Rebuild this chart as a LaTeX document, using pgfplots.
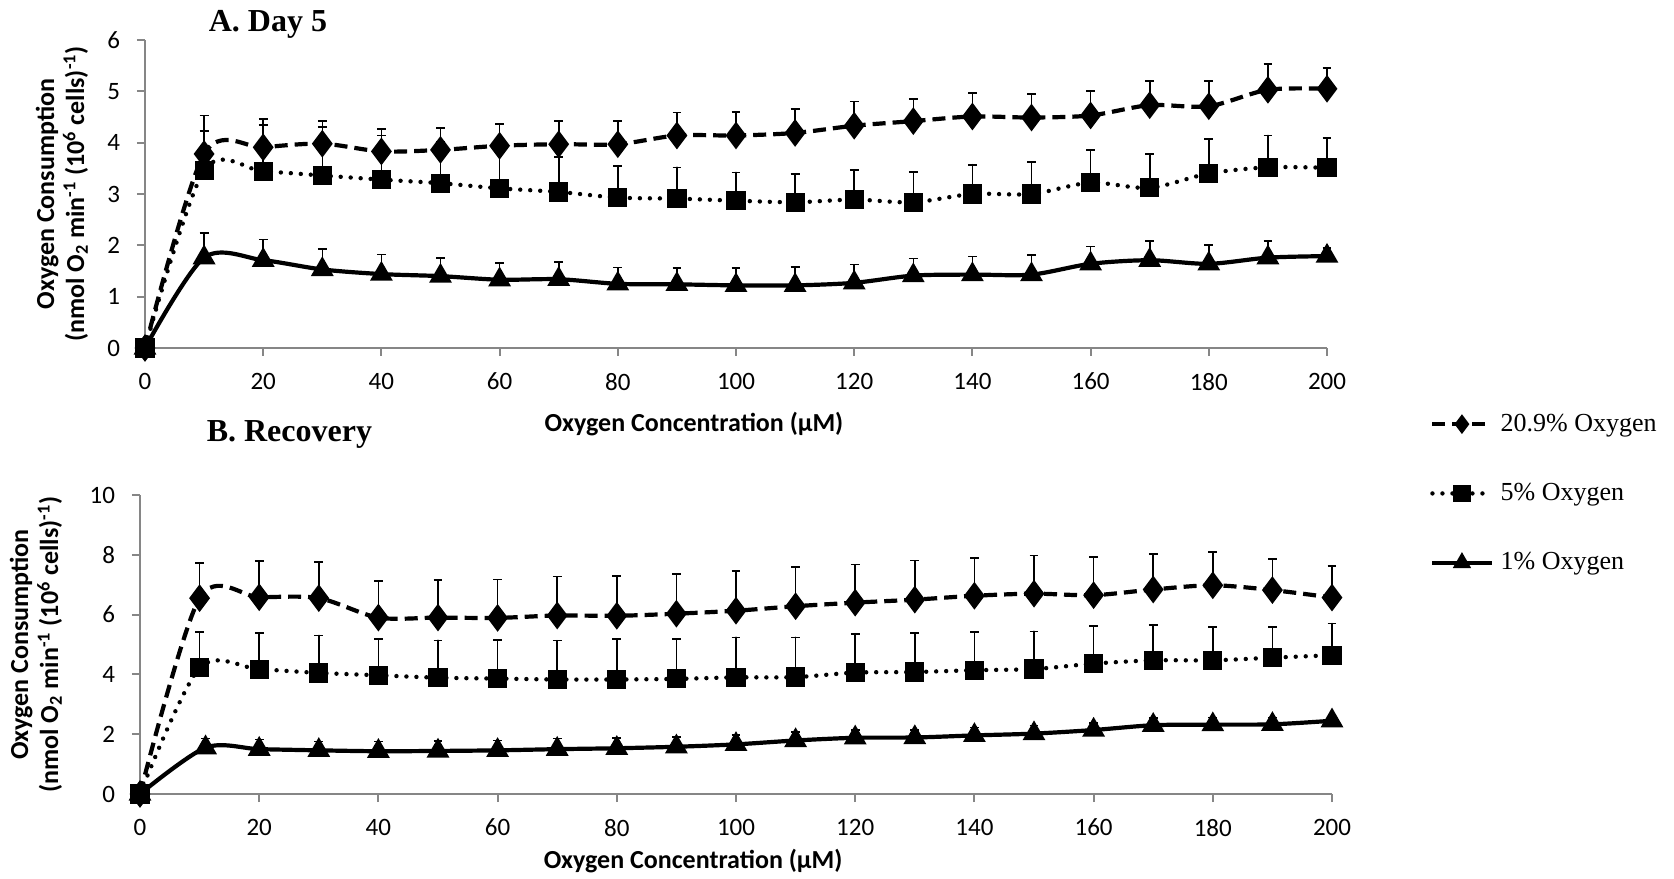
\documentclass[border=0pt]{standalone}
\usepackage{pgfplots}
\pgfplotsset{compat=1.18}
\usepackage{pgfplotstable}
\usepackage{fontspec}
\setmainfont{Carlito}
\newfontfamily\timesfont{Liberation Serif}
\definecolor{axgray}{RGB}{134,134,134}

% x  y  e(upper error)
\pgfplotstableread{
x y e
0 0 0
10 3.78 0.75
20 3.91 0.55
30 3.98 0.44
40 3.83 0.44
50 3.86 0.42
60 3.94 0.42
70 3.97 0.45
80 3.97 0.45
90 4.14 0.45
100 4.14 0.46
110 4.19 0.47
120 4.33 0.47
130 4.42 0.43
140 4.51 0.46
150 4.49 0.46
160 4.53 0.48
170 4.73 0.47
180 4.71 0.49
190 5.03 0.50
200 5.05 0.40
}\Ahigh
\pgfplotstableread{
x y e
0 0 0
10 3.46 0.77
20 3.44 0.91
30 3.36 0.94
40 3.28 0.86
50 3.21 0.80
60 3.11 0.80
70 3.04 0.68
80 2.93 0.62
90 2.91 0.61
100 2.87 0.55
110 2.84 0.55
120 2.89 0.58
130 2.84 0.59
140 3.00 0.57
150 3.00 0.62
160 3.22 0.64
170 3.12 0.66
180 3.40 0.67
190 3.52 0.62
200 3.51 0.58
}\Amid
\pgfplotstableread{
x y e
0 0 0
10 1.76 0.48
20 1.71 0.40
30 1.53 0.40
40 1.44 0.38
50 1.40 0.35
60 1.33 0.33
70 1.34 0.33
80 1.25 0.32
90 1.24 0.32
100 1.22 0.34
110 1.22 0.36
120 1.27 0.36
130 1.41 0.33
140 1.43 0.35
150 1.43 0.38
160 1.64 0.34
170 1.71 0.38
180 1.64 0.37
190 1.76 0.33
200 1.79 0.16
}\Alow
\pgfplotstableread{
x y e
0 0 0
10 6.55 1.18
20 6.58 1.21
30 6.55 1.21
40 5.90 1.23
50 5.90 1.25
60 5.89 1.28
70 5.97 1.31
80 5.96 1.33
90 6.03 1.32
100 6.13 1.33
110 6.28 1.31
120 6.40 1.28
130 6.50 1.31
140 6.63 1.27
150 6.70 1.27
160 6.65 1.27
170 6.84 1.19
180 6.98 1.11
190 6.82 1.03
200 6.57 1.05
}\Bhigh
\pgfplotstableread{
x y e
0 0 0
10 4.22 1.19
20 4.17 1.21
30 4.05 1.25
40 3.97 1.21
50 3.89 1.25
60 3.86 1.29
70 3.83 1.30
80 3.83 1.35
90 3.85 1.34
100 3.90 1.34
110 3.91 1.33
120 4.06 1.30
130 4.08 1.30
140 4.14 1.27
150 4.18 1.26
160 4.36 1.26
170 4.47 1.19
180 4.47 1.11
190 4.56 1.02
200 4.64 1.06
}\Bmid
\pgfplotstableread{
x y e
0 0 0
11 1.55 0.30
20 1.50 0.32
30 1.46 0.30
40 1.43 0.33
50 1.44 0.33
60 1.46 0.33
70 1.50 0.35
80 1.53 0.34
90 1.58 0.32
100 1.66 0.32
110 1.79 0.28
120 1.88 0.27
130 1.89 0.26
140 1.96 0.27
150 2.02 0.27
160 2.14 0.24
170 2.30 0.24
180 2.32 0.24
190 2.33 0.23
200 2.45 0.17
}\Blow

\pgfplotsset{
  myaxis/.style={
    scale only axis, clip=false,
    xmin=0, xmax=200, xtick={0,20,...,200},
    axis x line*=bottom, axis y line*=left,
    axis line style={axgray, line width=1pt},
    tick style={axgray, line width=1pt},
    tick align=outside, major tick length=4pt,
    /pgf/number format/assume math mode=true,
    ticklabel style={font=\fontsize{12.5}{14}\selectfont, black},
    xticklabel style={yshift=-5pt},
    yticklabel style={xshift=-5pt},
    label style={font=\bfseries\fontsize{13}{15}\selectfont},
    ylabel style={align=center, anchor=center},
    xlabel style={anchor=center},
    ylabel={Oxygen Consumption\\(nmol O\textsubscript{2} min\textsuperscript{-1} (10\textsuperscript{6} cells)\textsuperscript{-1})},
    xlabel={Oxygen Concentration (\textmu M)},
  },
  eb/.style={
    error bars/y dir=plus, error bars/y explicit,
    error bars/error bar style={solid, line width=0.8pt, black},
    error bars/error mark options={rotate=90, mark size=2.2pt, line width=0.8pt, solid, black},
  },
  legimg/.style={
    legend image code/.code={
      \draw[mark repeat=2, mark phase=2, ##1, mark size=3.2pt] plot coordinates {(0pt,0pt) (14.75pt,0pt) (29.5pt,0pt)};
    },
  },
  shigh/.style={black, line width=2.1pt, dash pattern=on 6.5pt off 3.5pt, smooth, tension=0.5,
      mark=diamond*, mark size=5.2pt, mark options={solid, fill=black}, eb, legimg},
  smid/.style={black, line width=2.2pt, dash pattern=on 0pt off 5pt, line cap=round, smooth, tension=0.5,
      mark=square*, mark size=3.7pt, mark options={solid, fill=black, line cap=butt}, eb, legimg},
  slow/.style={black, line width=2.1pt, solid, smooth, tension=0.5,
      mark=triangle*, mark size=4.5pt, mark options={solid, fill=black}, eb, legimg},
}

\begin{document}
\begin{tikzpicture}
\path[use as bounding box] (0pt,0pt) rectangle (837pt,439pt);

\begin{axis}[myaxis,
  at={(72.5pt,265pt)}, anchor=south west,
  width=591pt, height=154pt,
  ymin=0, ymax=6, ytick={0,1,...,6},
  xlabel style={at={(axis description cs:0.4645,-0.247)}},
  ylabel style={at={(axis description cs:-0.0702,0.5)}},
  legend style={at={(rel axis cs:1.087,-0.20)}, anchor=north west, draw=none, fill=none,
     inner sep=0pt, row sep=20.5pt, cells={anchor=west},
     nodes={inner xsep=3.5pt},
     font=\timesfont\fontsize{13}{15}\selectfont},
]
\addplot[shigh] table[x=x, y=y, y error=e] {\Ahigh};
\addlegendentry{20.9\% Oxygen}
\addplot[smid] table[x=x, y=y, y error=e] {\Amid};
\addlegendentry{5\% Oxygen}
\addplot[slow] table[x=x, y=y, y error=e] {\Alow};
\addlegendentry{1\% Oxygen}
\end{axis}

\begin{axis}[myaxis,
  at={(70pt,42pt)}, anchor=south west,
  width=596pt, height=149.5pt,
  ymin=0, ymax=10, ytick={0,2,...,10},
  xlabel style={at={(axis description cs:0.464,-0.223)}},
  ylabel style={at={(axis description cs:-0.0872,0.5)}},
]
\addplot[shigh] table[x=x, y=y, y error=e] {\Bhigh};
\addplot[smid] table[x=x, y=y, y error=e] {\Bmid};
\addplot[slow] table[x=x, y=y, y error=e] {\Blow};
\end{axis}

\node[font=\timesfont\bfseries\fontsize{16}{18}\selectfont] at (134pt,427pt) {A. Day 5};
\node[font=\timesfont\bfseries\fontsize{16}{18}\selectfont] at (144.7pt,222pt) {B. Recovery};
\end{tikzpicture}
\end{document}
